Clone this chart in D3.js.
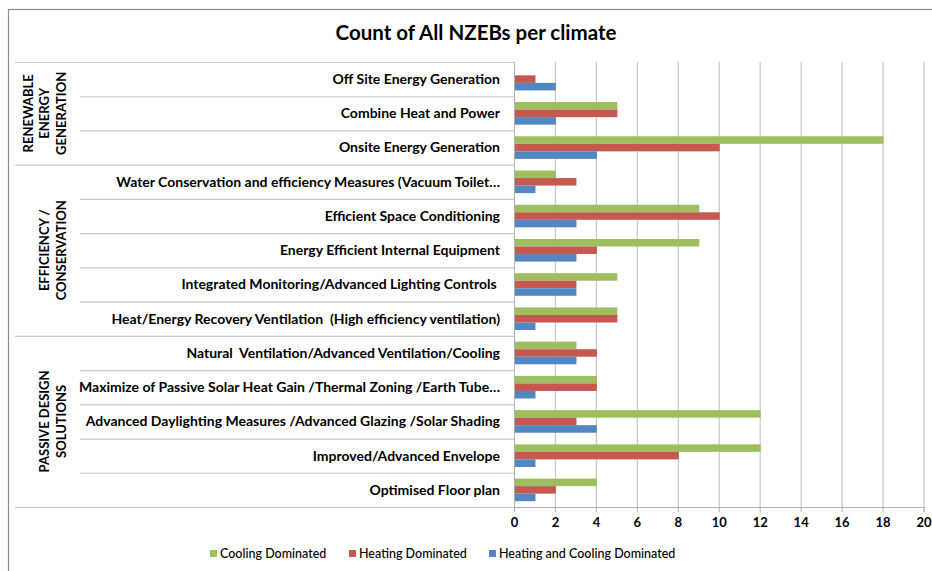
<!DOCTYPE html>
<html>
<head>
<meta charset="utf-8">
<script src="https://cdn.jsdelivr.net/npm/d3@7"></script>
<style>
  body { margin: 0; background: #fff; }
  text { font-family: Lato, 'Open Sans', sans-serif; fill: #000; }
</style>
</head>
<body>
<div id="chart"></div>
<script>
// data
const categories = [
  'Off Site Energy Generation',
  'Combine Heat and Power',
  'Onsite Energy Generation',
  'Water Conservation and efficiency Measures (Vacuum Toilet\u2026',
  'Efficient Space Conditioning',
  'Energy Efficient Internal Equipment',
  'Integrated Monitoring/Advanced Lighting Controls ',
  'Heat/Energy Recovery Ventilation  (High efficiency ventilation)',
  'Natural  Ventilation/Advanced Ventilation/Cooling',
  'Maximize of Passive Solar Heat Gain /Thermal Zoning /Earth Tube\u2026',
  'Advanced Daylighting Measures /Advanced Glazing /Solar Shading',
  'Improved/Advanced Envelope',
  'Optimised Floor plan',
]
const groups = [
  { lines: ['RENEWABLE', 'ENERGY', 'GENERATION'], from: 0, to: 2 },
  { lines: ['EFFICIENCY /', 'CONSERVATION'], from: 3, to: 7 },
  { lines: ['PASSIVE DESIGN', 'SOLUTIONS'], from: 8, to: 12 },
]
const seriesNames = ['Cooling Dominated', 'Heating Dominated', 'Heating and Cooling Dominated']
const cooling = [0, 5, 18, 2, 9, 9, 5, 5, 3, 4, 12, 12, 4]
const heating = [1, 5, 10, 3, 10, 4, 3, 5, 4, 4, 3, 8, 2]
const both = [2, 2, 4, 1, 3, 3, 3, 1, 3, 1, 4, 1, 1]
const xTicks = [0, 2, 4, 6, 8, 10, 12, 14, 16, 18, 20]

const seriesValues = [cooling, heating, both]

// size
const W = 932
const H = 571
const plotLeft = 514
const plotRight = 923.5
const plotTop = 62
const plotBottom = 507
const groupLeft = 15
const catLeft = 80

// scale
const x = d3.scaleLinear().domain([0, 20]).range([plotLeft, plotRight])

const y = d3
  .scaleBand()
  .domain(categories)
  .range([plotTop, plotBottom])
  .paddingInner(0.34)
  .paddingOuter(0.17)

const ySeries = d3
  .scaleBand()
  .domain(seriesNames)
  .range([0, y.bandwidth()])

const color = d3
  .scaleOrdinal()
  .domain(seriesNames)
  .range(['#9fbe5f', '#c6584f', '#5287c1'])

const step = y.step()
const rowTop = i => plotTop + i * step

const svg = d3
  .select('#chart')
  .append('svg')
  .attr('width', W)
  .attr('height', H)

// chart border
svg
  .append('rect')
  .attr('x', 8.5)
  .attr('y', 9.5)
  .attr('width', W + 20)
  .attr('height', H + 20)
  .attr('fill', 'none')
  .attr('stroke', '#8c8c8c')
  .attr('stroke-width', 1.2)

// title
svg
  .append('text')
  .attr('x', 476)
  .attr('y', 40)
  .attr('text-anchor', 'middle')
  .attr('font-size', '20.5px')
  .attr('font-weight', 'bold')
  .text('Count of All NZEBs per climate')

// gridlines
svg
  .append('g')
  .selectAll('line')
  .data(xTicks.slice(1))
  .join('line')
  .attr('x1', d => x(d) + 0.5)
  .attr('x2', d => x(d) + 0.5)
  .attr('y1', plotTop)
  .attr('y2', plotBottom)
  .attr('stroke', '#c8c8c8')
  .attr('stroke-width', 1.2)

// x-axis
const xAxis = svg
  .append('g')
  .attr('transform', `translate(0, ${plotBottom})`)
  .call(d3.axisBottom(x).tickValues(xTicks).tickSize(5).tickPadding(6))
xAxis.selectAll('path, line').attr('stroke', '#b0b0b0')
xAxis
  .selectAll('text')
  .attr('font-size', '13px')
  .attr('font-weight', 'bold')
  .style('font-family', 'Lato, sans-serif')
  .attr('fill', '#000')

// category axis line
svg
  .append('line')
  .attr('x1', plotLeft + 0.5)
  .attr('x2', plotLeft + 0.5)
  .attr('y1', plotTop)
  .attr('y2', plotBottom)
  .attr('stroke', '#b0b0b0')

// category separators (multi-level)
const sepRows = d3.range(categories.length + 1)
const groupEdges = new Set([0, ...groups.map(g => g.to + 1)])
svg
  .append('g')
  .selectAll('line')
  .data(sepRows)
  .join('line')
  .attr('x1', i => (groupEdges.has(i) ? groupLeft : catLeft))
  .attr('x2', plotLeft)
  .attr('y1', i => rowTop(i) + 0.5)
  .attr('y2', i => rowTop(i) + 0.5)
  .attr('stroke', '#c8c8c8')
  .attr('stroke-width', 1.2)

// category labels
svg
  .append('g')
  .selectAll('text')
  .data(categories)
  .join('text')
  .attr('x', 500)
  .attr('y', d => y(d) + y.bandwidth() / 2)
  .attr('dy', '0.35em')
  .attr('text-anchor', 'end')
  .attr('font-size', '14px')
  .attr('font-weight', 'bold')
  .style('white-space', 'pre')
  .text(d => d)

// group labels
groups.forEach(g => {
  const cy = (rowTop(g.from) + rowTop(g.to + 1)) / 2
  const n = g.lines.length
  const t = svg
    .append('text')
    .attr('transform', `translate(61, ${cy}) rotate(-90)`)
    .attr('text-anchor', 'middle')
    .attr('font-size', '13px')
    .attr('font-weight', 'bold')
  g.lines.forEach((line, i) => {
    t.append('tspan')
      .attr('x', 0)
      .attr('y', -(n - 1 - i) * 16.5 + 4.5)
      .text(line)
  })
})

// bars
seriesNames.forEach((s, si) => {
  svg
    .append('g')
    .selectAll('rect')
    .data(categories.map((c, i) => ({ c, v: seriesValues[si][i] })))
    .join('rect')
    .attr('x', x(0) + 1)
    .attr('y', d => y(d.c) + ySeries(s))
    .attr('width', d => Math.max(0, x(d.v) - x(0)))
    .attr('height', ySeries.bandwidth())
    .attr('fill', color(s))
})

// legend
const legendX = [210, 349, 489]
const legend = svg.append('g').attr('transform', 'translate(0, 554)')
seriesNames.forEach((s, i) => {
  legend
    .append('rect')
    .attr('x', legendX[i])
    .attr('y', -4)
    .attr('width', 7)
    .attr('height', 7)
    .attr('fill', color(s))
  legend
    .append('text')
    .attr('x', legendX[i] + 10)
    .attr('y', 0)
    .attr('dy', '0.35em')
    .attr('font-size', '12.5px')
    .attr('font-weight', 500)
    .text(s)
})
</script>
</body>
</html>
